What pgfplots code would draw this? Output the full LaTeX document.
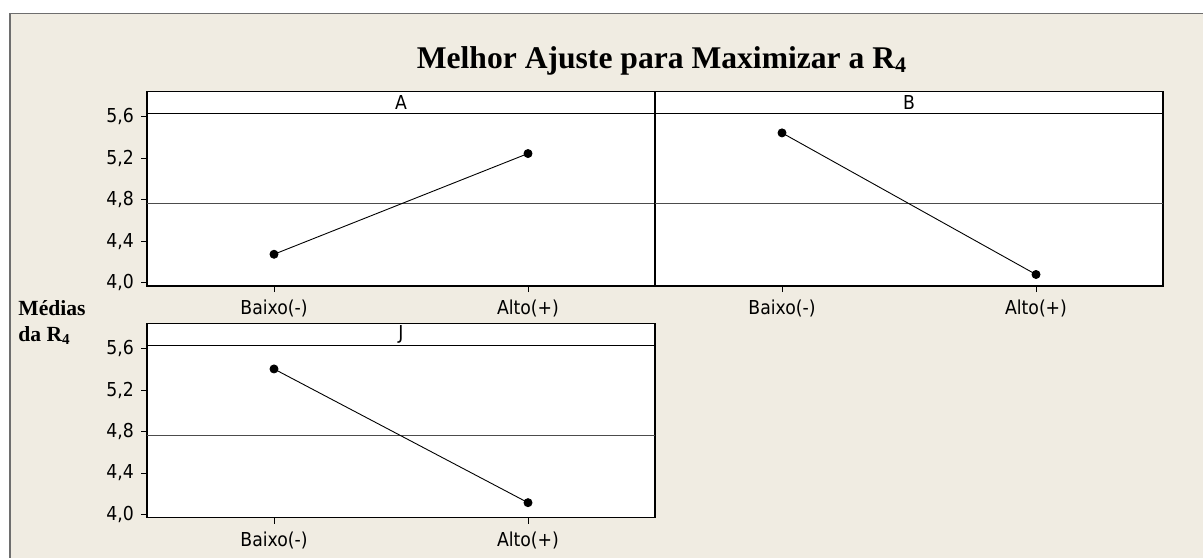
\documentclass[border=0pt]{standalone}
\usepackage{fontspec}
\setmainfont{Liberation Serif}
\newfontfamily\tahoma{DejaVu Sans Condensed}
\usepackage{pgfplots}
\pgfplotsset{compat=1.18}
\definecolor{bgbeige}{RGB}{240,236,226}
\definecolor{framegray}{RGB}{110,110,110}

\pgfplotsset{
  panel/.style={
    width=254pt, height=97.25pt, scale only axis,
    xmin=0.5, xmax=2.5, ymin=3.97, ymax=5.845,
    xtick={1,2}, xticklabels={Baixo(-),Alto(+)},
    ytick={4,4.4,4.8,5.2,5.6},
    /pgf/number format/.cd, fixed, fixed zerofill, precision=1, use comma, assume math mode=true,
    /pgfplots/.cd,
    tick align=outside, major tick length=3pt,
    xtick pos=bottom, ytick pos=left,
    tick style={black, line width=0.5pt},
    axis line style={black, line width=0.6pt},
    tick label style={font=\tahoma\fontsize{9.6}{11}\selectfont},
    xticklabel style={yshift=-0.5pt},
    axis background/.style={fill=white},
    anchor=south west,
  },
  meanline/.style={gray!60!black, line width=0.5pt},
  effect/.style={black, line width=0.45pt, mark=*, mark size=2pt},
}

\begin{document}
\begin{tikzpicture}
\useasboundingbox (0,0) rectangle (601.5pt,-278.5pt);
\fill[white] (0,0) rectangle (601.5pt,-278.5pt);
\fill[bgbeige] (5pt,-6.6pt) rectangle (602pt,-279pt);
\draw[framegray, line width=0.6pt] (5pt,-279pt) -- (5pt,-6.6pt) -- (602pt,-6.6pt);

\node[anchor=base, font=\bfseries\fontsize{15.8}{18}\selectfont] at (331pt,-34pt)
  {Melhor Ajuste para Maximizar a R\textsubscript{4}};
\node[anchor=base west, font=\bfseries\fontsize{10.8}{12}\selectfont, inner sep=0pt] at (9pt,-157.5pt) {Médias};
\node[anchor=base west, font=\bfseries\fontsize{10.8}{12}\selectfont, inner sep=0pt] at (9pt,-170.8pt) {da R\textsubscript{4}};

% painel A
\begin{axis}[panel, at={(73.5pt,-143pt)}]
\addplot[meanline] coordinates {(0.5,4.763) (2.5,4.763)};
\addplot[effect] coordinates {(1,4.276) (2,5.247)};
\draw[black, line width=0.6pt] (axis cs:0.5,5.63) -- (axis cs:2.5,5.63);
\node[font=\tahoma\fontsize{9.6}{11}\selectfont] at (axis cs:1.5,5.737) {A};
\end{axis}

% painel B
\begin{axis}[panel, at={(327.5pt,-143pt)}, yticklabels={}, ytick style={draw=none}]
\addplot[meanline] coordinates {(0.5,4.763) (2.5,4.763)};
\addplot[effect] coordinates {(1,5.446) (2,4.081)};
\draw[black, line width=0.6pt] (axis cs:0.5,5.63) -- (axis cs:2.5,5.63);
\node[font=\tahoma\fontsize{9.6}{11}\selectfont] at (axis cs:1.5,5.737) {B};
\end{axis}

% painel J
\begin{axis}[panel, at={(73.5pt,-258.85pt)}]
\addplot[meanline] coordinates {(0.5,4.763) (2.5,4.763)};
\addplot[effect] coordinates {(1,5.404) (2,4.115)};
\draw[black, line width=0.6pt] (axis cs:0.5,5.63) -- (axis cs:2.5,5.63);
\node[font=\tahoma\fontsize{9.6}{11}\selectfont] at (axis cs:1.5,5.737) {J};
\end{axis}
\end{tikzpicture}
\end{document}
